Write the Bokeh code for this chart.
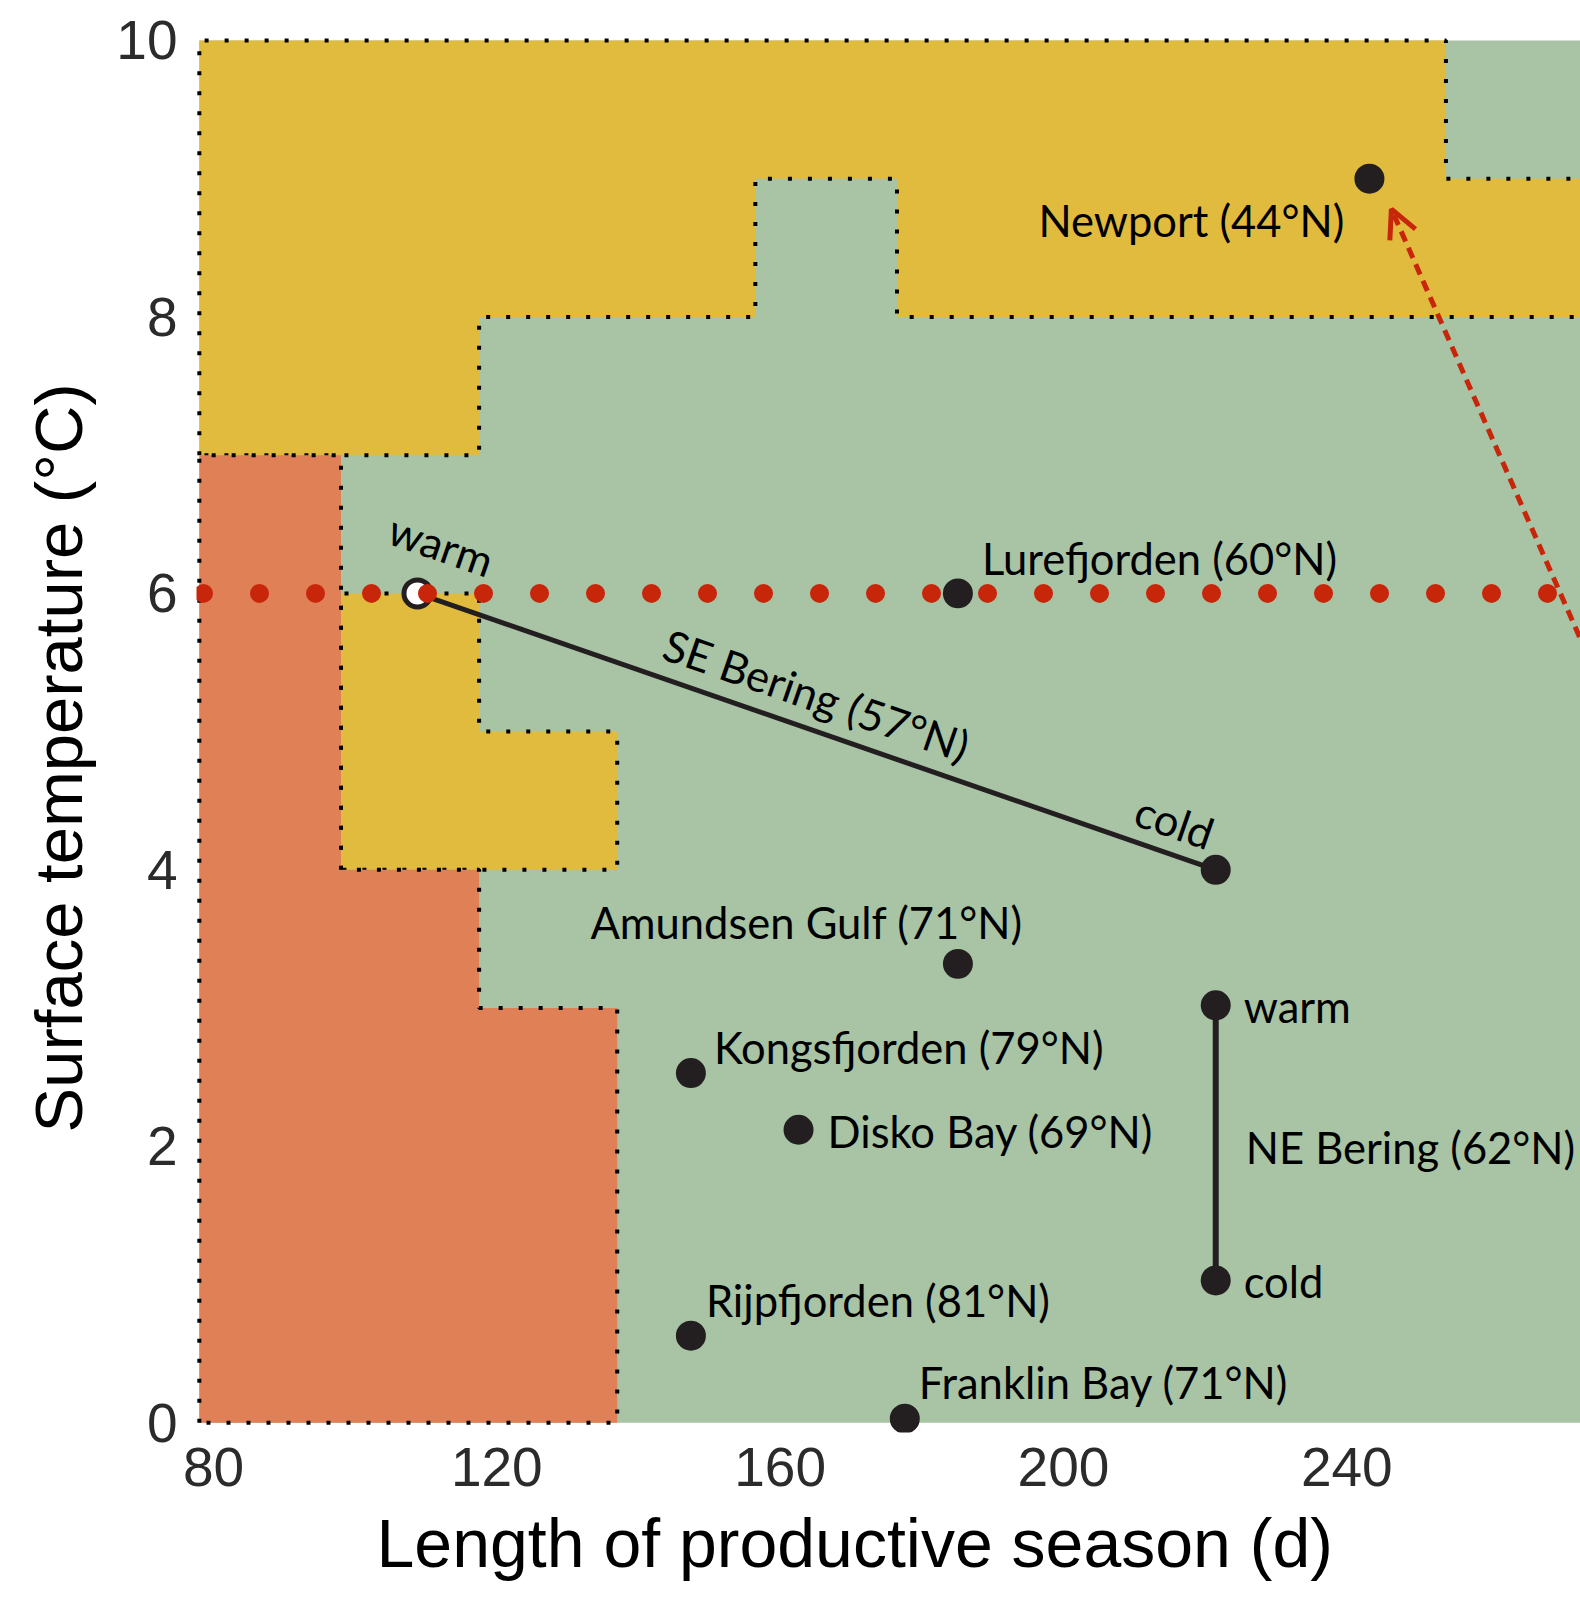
import math
from bokeh.plotting import figure
from bokeh.models import Range1d, FixedTicker, Arrow, OpenHead, Title
from bokeh.core.properties import value
from bokeh.embed import file_html
from bokeh.resources import INLINE

# ---------------- data ----------------
x_ticks = [80, 120, 160, 200, 240]
y_ticks = [0, 2, 4, 6, 8, 10]

# zones (vertices: length of productive season d, surface temperature degC)
zone_x_min, zone_x_max = 78, 290
zone_y_min, zone_y_max = 0, 10
yellow_main_x = [78, 78, 254, 254, 290, 290, 176.5, 176.5, 156.5, 156.5, 117.5, 117.5]
yellow_main_y = [7, 10, 10, 9, 9, 8, 8, 9, 9, 8, 8, 7]
yellow_small_x = [98, 98, 117.5, 117.5, 137, 137]
yellow_small_y = [4, 6, 6, 5, 5, 4]
orange_x = [78, 78, 98, 98, 117.5, 117.5, 137, 137]
orange_y = [0, 7, 7, 4, 4, 3, 3, 0]

sites = ["Newport (44°N)", "Lurefjorden (60°N)", "Amundsen Gulf (71°N)",
         "Kongsfjorden (79°N)", "Disko Bay (69°N)", "Rijpfjorden (81°N)",
         "Franklin Bay (71°N)"]
site_season = [243.2, 185.1, 185.1, 147.4, 162.6, 147.4, 177.6]
site_temp = [9.0, 6.0, 3.32, 2.53, 2.12, 0.63, 0.03]

se_bering_name = "SE Bering (57°N)"
se_bering_season = [108.8, 221.5]   # warm, cold
se_bering_temp = [6.0, 4.0]
ne_bering_name = "NE Bering (62°N)"
ne_bering_season = [221.5, 221.5]   # warm, cold
ne_bering_temp = [3.02, 1.03]

threshold_temp = 6.0
arrow_from = (279.0, 4.97)
arrow_to = (246.3, 8.78)

# ---------------- style ----------------
YELLOW = "#E1BB3D"
GREEN = "#A9C3A5"
ORANGE = "#E08057"
RED = "#C8260A"
DARK = "#231F20"
FONT_C = "Liberation Sans"
FONT_A = "Lato"
ANN = "43.5px"

x_lo, x_hi = 77.6, 273.0
p = figure(width=1580, height=1601,
           x_range=Range1d(x_lo, x_hi), y_range=Range1d(-0.07, 10.05),
           output_backend="svg", toolbar_location=None,
           min_border_left=196, min_border_right=0,
           min_border_top=33, min_border_bottom=169)
p.outline_line_color = None
p.background_fill_color = "white"
p.border_fill_color = "white"
p.grid.visible = False

for ax in (p.xaxis[0], p.yaxis[0]):
    ax.axis_line_color = None
    ax.major_tick_line_color = None
    ax.minor_tick_line_color = None
    ax.major_label_text_font = FONT_C
    ax.major_label_text_font_size = "55px"
    ax.major_label_text_color = "#2b2b2b"
p.xaxis.ticker = FixedTicker(ticks=x_ticks)
p.yaxis.ticker = FixedTicker(ticks=y_ticks)
p.xaxis.major_label_standoff = 9
p.yaxis.major_label_standoff = 13

p.add_layout(Title(text="Length of productive season (d)", align="left",
                   offset=180, vertical_align="top", standoff=32,
                   text_font=FONT_C, text_font_size="68px",
                   text_font_style="normal", text_color="black"), "below")
p.add_layout(Title(text="Surface temperature (°C)", align="left",
                   offset=300, vertical_align="bottom", standoff=36,
                   text_font=FONT_C, text_font_size="67px",
                   text_font_style="normal", text_color="black"), "left")

# zones
p.quad(left=zone_x_min, right=zone_x_max, bottom=zone_y_min, top=zone_y_max,
       fill_color=GREEN, line_color=None)
p.patches(xs=[yellow_main_x, yellow_small_x], ys=[yellow_main_y, yellow_small_y],
          fill_color=YELLOW, line_color="black", line_width=4, line_dash="4 16")
p.patch(orange_x, orange_y, fill_color=ORANGE, line_color="black",
        line_width=4, line_dash="4 16")

# Bering lines
p.line(se_bering_season, se_bering_temp, line_color=DARK, line_width=5)
p.line(ne_bering_season, ne_bering_temp, line_color=DARK, line_width=6)
p.scatter(x=se_bering_season[:1], y=se_bering_temp[:1], size=27,
          fill_color="white", line_color=DARK, line_width=5)

# threshold (red dotted)
p.line([x_lo, x_hi], [threshold_temp, threshold_temp], line_color=RED,
       line_width=19, line_dash="0 56", line_cap="round", line_dash_offset=49)

# filled points
p.scatter(x=site_season + se_bering_season[1:] + ne_bering_season,
          y=site_temp + se_bering_temp[1:] + ne_bering_temp,
          size=30, fill_color=DARK, line_color=None)

# site labels: (align, dx, dy) in screen px, dy positive = down
label_pos = {
    "Newport (44°N)": ("right", -25, 41.5),
    "Lurefjorden (60°N)": ("left", 24, -35.5),
    "Amundsen Gulf (71°N)": ("right", 65, -41.5),
    "Kongsfjorden (79°N)": ("left", 23, -26.5),
    "Disko Bay (69°N)": ("left", 29, 1.5),
    "Rijpfjorden (81°N)": ("left", 15, -35.5),
    "Franklin Bay (71°N)": ("left", 14, -36.5),
}
for name, sx, sy in zip(sites, site_season, site_temp):
    al, dx, dy = label_pos[name]
    p.text(x=[sx], y=[sy], text=[name], x_offset=dx, y_offset=dy,
           text_align=al, text_baseline="alphabetic",
           text_font=value(FONT_A), text_font_size=ANN, text_color="black")

ang = -0.333
mid_se = ((se_bering_season[0] + se_bering_season[1]) / 2,
          (se_bering_temp[0] + se_bering_temp[1]) / 2)
p.text(x=[se_bering_season[0]], y=[se_bering_temp[0]], text=["warm"],
       x_offset=24, y_offset=-49, angle=ang, text_align="center",
       text_baseline="middle", text_font=value(FONT_A), text_font_size=ANN,
       text_color="black")
p.text(x=[se_bering_season[1]], y=[se_bering_temp[1]], text=["cold"],
       x_offset=-41, y_offset=-48.5, angle=ang, text_align="center",
       text_baseline="middle", text_font=value(FONT_A), text_font_size=ANN,
       text_color="black")
p.text(x=[mid_se[0]], y=[mid_se[1]], text=[se_bering_name],
       x_offset=0, y_offset=-37, angle=ang, text_align="center",
       text_baseline="middle", text_font=value(FONT_A), text_font_size=ANN,
       text_color="black")

mid_ne = (ne_bering_season[0], (ne_bering_temp[0] + ne_bering_temp[1]) / 2)
p.text(x=ne_bering_season, y=ne_bering_temp, text=["warm", "cold"],
       x_offset=28, y_offset=0.5, text_align="left", text_baseline="alphabetic",
       text_font=value(FONT_A), text_font_size=ANN, text_color="black")
p.text(x=[mid_ne[0]], y=[mid_ne[1]], text=[ne_bering_name],
       x_offset=30, y_offset=4.5, text_align="left", text_baseline="alphabetic",
       text_font=value(FONT_A), text_font_size=ANN, text_color="black")

# arrow toward Newport
p.add_layout(Arrow(end=OpenHead(size=28, line_color=RED, line_width=5),
                   x_start=arrow_from[0], y_start=arrow_from[1],
                   x_end=arrow_to[0], y_end=arrow_to[1],
                   line_color=RED, line_width=5, line_dash="11 7"))

open("out.html", "w").write(file_html(p, INLINE))
